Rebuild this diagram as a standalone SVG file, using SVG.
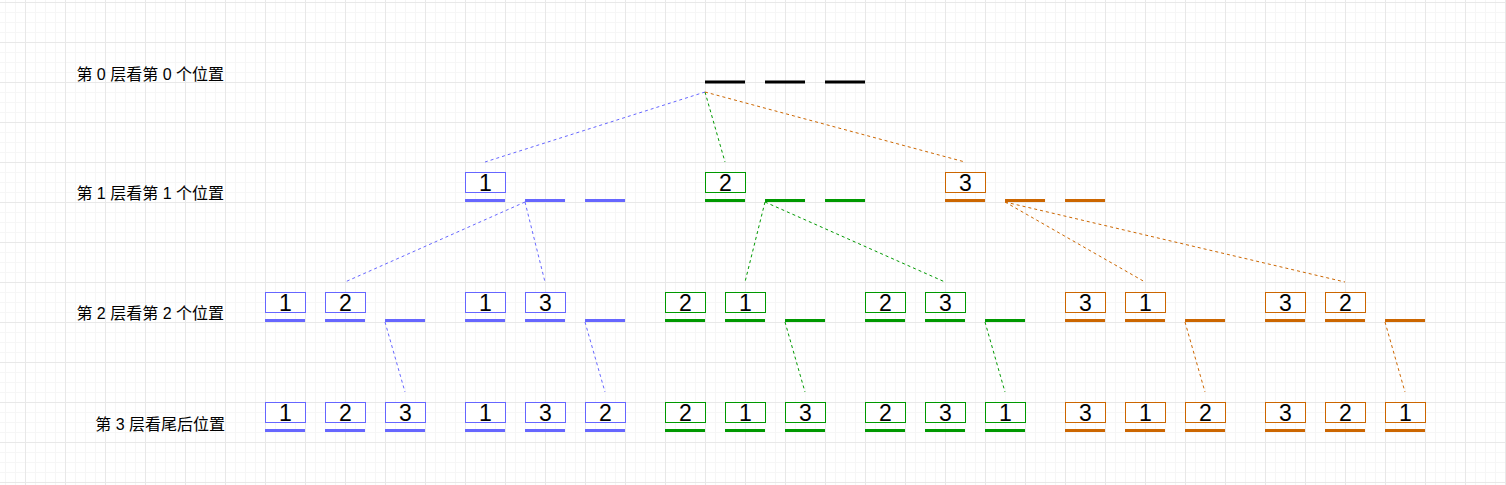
<svg xmlns="http://www.w3.org/2000/svg" width="1506" height="485" viewBox="0 0 1506 485">
<defs>
<pattern id="minor" width="10" height="10" patternUnits="userSpaceOnUse" x="5" y="2">
<path d="M0 0.5H10M0.5 0V10" fill="none" stroke="#f6f6f6" stroke-width="1"/>
</pattern>
<pattern id="major" width="40" height="40" patternUnits="userSpaceOnUse" x="25" y="2">
<path d="M0 0.5H40M0.5 0V40" fill="none" stroke="#e8e8e8" stroke-width="1"/>
</pattern>
</defs>
<style>
.lbl{font-family:"Liberation Sans","Noto Sans CJK SC",sans-serif;font-size:16px;fill:#000;text-anchor:end;dominant-baseline:central}
.num{font-family:"Liberation Sans",Arial,sans-serif;font-size:23px;fill:#000;text-anchor:middle;dominant-baseline:central}
.b rect{fill:#fff;stroke:#6666ff;stroke-width:1}
.g rect{fill:#fff;stroke:#009900;stroke-width:1}
.o rect{fill:#fff;stroke:#cc6600;stroke-width:1}
.bar{stroke-width:3;fill:none}
.b .bar,.bl{stroke:#6666ff}
.g .bar,.gl{stroke:#009900}
.o .bar,.ol{stroke:#cc6600}
.k .bar{stroke:#000}
.dl{fill:none;stroke-width:1;stroke-dasharray:3 3}
</style>
<rect width="1506" height="485" fill="#fff"/>
<rect width="1506" height="485" fill="url(#minor)"/>
<rect width="1506" height="485" fill="url(#major)"/>

<g id="labels">
<text class="lbl" x="224" y="74">第 0 层看第 0 个位置</text>
<text class="lbl" x="224" y="193">第 1 层看第 1 个位置</text>
<text class="lbl" x="224" y="313">第 2 层看第 2 个位置</text>
<text class="lbl" x="225" y="424">第 3 层看尾后位置</text>
</g>

<g id="connectors">
<path class="dl bl" d="M705 92L485 162"/>
<path class="dl gl" d="M705 92L725 162"/>
<path class="dl ol" d="M705 92L965 162"/>
<path class="dl bl" d="M525 202L345 282M525 202L545 282"/>
<path class="dl gl" d="M765 202L745 282M765 202L945 282"/>
<path class="dl ol" d="M1005 202L1145 282M1005 202L1345 282"/>
<path class="dl bl" d="M385 322L405 392M585 322L605 392"/>
<path class="dl gl" d="M785 322L805 392M985 322L1005 392"/>
<path class="dl ol" d="M1185 322L1205 392M1385 322L1405 392"/>
</g>

<g id="n0" class="k">
<path class="bar" d="M705 82H745M765 82H805M825 82H865"/>
</g>

<g id="n1a" class="b">
<rect x="465.5" y="172.5" width="40" height="20"/><text class="num" x="485.5" y="182.5">1</text>
<path class="bar" d="M465 200.5H505M525 200.5H565M585 200.5H625"/>
</g>
<g id="n1b" class="g">
<rect x="705.5" y="172.5" width="40" height="20"/><text class="num" x="725.5" y="182.5">2</text>
<path class="bar" d="M705 200.5H745M765 200.5H805M825 200.5H865"/>
</g>
<g id="n1c" class="o">
<rect x="945.5" y="172.5" width="40" height="20"/><text class="num" x="965.5" y="182.5">3</text>
<path class="bar" d="M945 200.5H985M1005 200.5H1045M1065 200.5H1105"/>
</g>

<g id="n2a" class="b">
<rect x="265.5" y="292.5" width="40" height="20"/><text class="num" x="285.5" y="302.5">1</text>
<rect x="325.5" y="292.5" width="40" height="20"/><text class="num" x="345.5" y="302.5">2</text>
<path class="bar" d="M265 320.5H305M325 320.5H365M385 320.5H425"/>
</g>
<g id="n2b" class="b">
<rect x="465.5" y="292.5" width="40" height="20"/><text class="num" x="485.5" y="302.5">1</text>
<rect x="525.5" y="292.5" width="40" height="20"/><text class="num" x="545.5" y="302.5">3</text>
<path class="bar" d="M465 320.5H505M525 320.5H565M585 320.5H625"/>
</g>
<g id="n2c" class="g">
<rect x="665.5" y="292.5" width="40" height="20"/><text class="num" x="685.5" y="302.5">2</text>
<rect x="725.5" y="292.5" width="40" height="20"/><text class="num" x="745.5" y="302.5">1</text>
<path class="bar" d="M665 320.5H705M725 320.5H765M785 320.5H825"/>
</g>
<g id="n2d" class="g">
<rect x="865.5" y="292.5" width="40" height="20"/><text class="num" x="885.5" y="302.5">2</text>
<rect x="925.5" y="292.5" width="40" height="20"/><text class="num" x="945.5" y="302.5">3</text>
<path class="bar" d="M865 320.5H905M925 320.5H965M985 320.5H1025"/>
</g>
<g id="n2e" class="o">
<rect x="1065.5" y="292.5" width="40" height="20"/><text class="num" x="1085.5" y="302.5">3</text>
<rect x="1125.5" y="292.5" width="40" height="20"/><text class="num" x="1145.5" y="302.5">1</text>
<path class="bar" d="M1065 320.5H1105M1125 320.5H1165M1185 320.5H1225"/>
</g>
<g id="n2f" class="o">
<rect x="1265.5" y="292.5" width="40" height="20"/><text class="num" x="1285.5" y="302.5">3</text>
<rect x="1325.5" y="292.5" width="40" height="20"/><text class="num" x="1345.5" y="302.5">2</text>
<path class="bar" d="M1265 320.5H1305M1325 320.5H1365M1385 320.5H1425"/>
</g>

<g id="n3a" class="b">
<rect x="265.5" y="402.5" width="40" height="20"/><text class="num" x="285.5" y="412.5">1</text>
<rect x="325.5" y="402.5" width="40" height="20"/><text class="num" x="345.5" y="412.5">2</text>
<rect x="385.5" y="402.5" width="40" height="20"/><text class="num" x="405.5" y="412.5">3</text>
<path class="bar" d="M265 430.5H305M325 430.5H365M385 430.5H425"/>
</g>
<g id="n3b" class="b">
<rect x="465.5" y="402.5" width="40" height="20"/><text class="num" x="485.5" y="412.5">1</text>
<rect x="525.5" y="402.5" width="40" height="20"/><text class="num" x="545.5" y="412.5">3</text>
<rect x="585.5" y="402.5" width="40" height="20"/><text class="num" x="605.5" y="412.5">2</text>
<path class="bar" d="M465 430.5H505M525 430.5H565M585 430.5H625"/>
</g>
<g id="n3c" class="g">
<rect x="665.5" y="402.5" width="40" height="20"/><text class="num" x="685.5" y="412.5">2</text>
<rect x="725.5" y="402.5" width="40" height="20"/><text class="num" x="745.5" y="412.5">1</text>
<rect x="785.5" y="402.5" width="40" height="20"/><text class="num" x="805.5" y="412.5">3</text>
<path class="bar" d="M665 430.5H705M725 430.5H765M785 430.5H825"/>
</g>
<g id="n3d" class="g">
<rect x="865.5" y="402.5" width="40" height="20"/><text class="num" x="885.5" y="412.5">2</text>
<rect x="925.5" y="402.5" width="40" height="20"/><text class="num" x="945.5" y="412.5">3</text>
<rect x="985.5" y="402.5" width="40" height="20"/><text class="num" x="1005.5" y="412.5">1</text>
<path class="bar" d="M865 430.5H905M925 430.5H965M985 430.5H1025"/>
</g>
<g id="n3e" class="o">
<rect x="1065.5" y="402.5" width="40" height="20"/><text class="num" x="1085.5" y="412.5">3</text>
<rect x="1125.5" y="402.5" width="40" height="20"/><text class="num" x="1145.5" y="412.5">1</text>
<rect x="1185.5" y="402.5" width="40" height="20"/><text class="num" x="1205.5" y="412.5">2</text>
<path class="bar" d="M1065 430.5H1105M1125 430.5H1165M1185 430.5H1225"/>
</g>
<g id="n3f" class="o">
<rect x="1265.5" y="402.5" width="40" height="20"/><text class="num" x="1285.5" y="412.5">3</text>
<rect x="1325.5" y="402.5" width="40" height="20"/><text class="num" x="1345.5" y="412.5">2</text>
<rect x="1385.5" y="402.5" width="40" height="20"/><text class="num" x="1405.5" y="412.5">1</text>
<path class="bar" d="M1265 430.5H1305M1325 430.5H1365M1385 430.5H1425"/>
</g>
</svg>
